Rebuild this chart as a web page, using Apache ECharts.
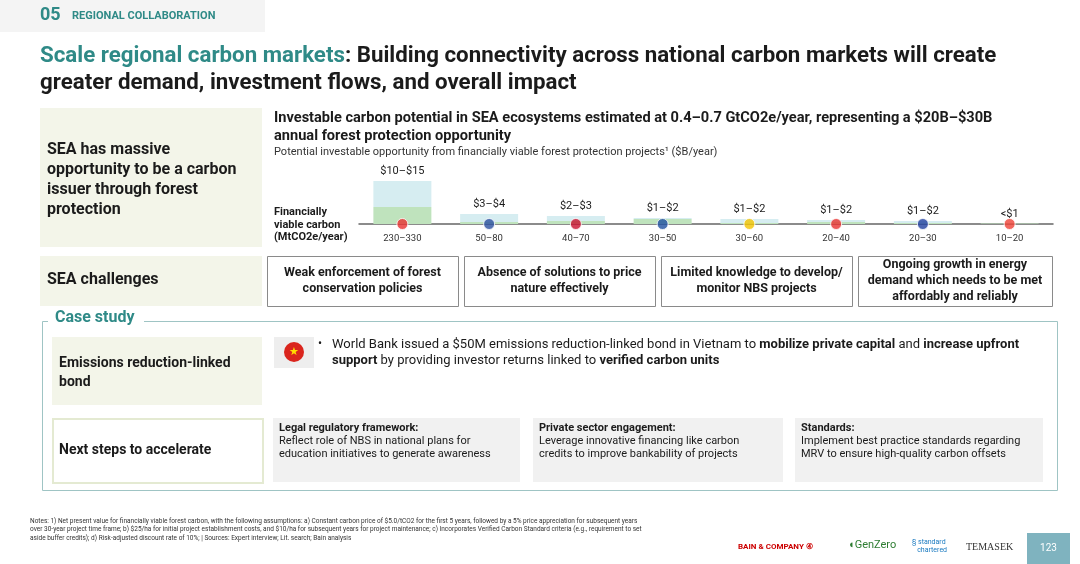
<!DOCTYPE html>
<html><head><meta charset="utf-8">
<script src="https://cdn.jsdelivr.net/npm/echarts@6/dist/echarts.min.js"></script>
<style>html,body{margin:0;padding:0;background:#fff}#c{width:1080px;height:564px}</style>
</head><body><div id="c"></div>
<script>
const countries = ['Indonesia','Malaysia','Thailand','Cambodia','Myanmar','Vietnam','Laos','Philippines'];
const viable = [17, 2, 3, 5, 1, 2, 1, 0.5];
const uneconomic = [26, 8, 5, 1, 4, 2, 2, 0];
const valueLabels = ['$10–$15','$3–$4','$2–$3','$1–$2','$1–$2','$1–$2','$1–$2','<$1'];
const carbonLabels = ['230–330','50–80','40–70','30–50','30–60','20–40','20–30','10–20'];
const flagColors = ['#e8312f','#2a4fa0','#c8102e','#1f4fa0','#f2c300','#e8312f','#1f3f9f','#ef4136'];

const F = 'Roboto, "Noto Sans", sans-serif';
const dark = '#1b1b1b', teal = '#2f8a87';
const chart = echarts.init(document.getElementById('c'));
const txt = (x,y,t,s,o={}) => ({type:'text',left:x,top:y,style:Object.assign({text:t,fontFamily:F,fontSize:s,fill:dark},o)});
const rect = (x,y,w,h,o={}) => ({type:'rect',left:x,top:y,shape:{width:w,height:h},style:Object.assign({fill:'#f3f5e9'},o)});
const ctext = (x,y,w,h,t,s,o={}) => ({type:'text',x:x+w/2,y:y+h/2,style:Object.assign({text:t,fontFamily:F,fontSize:s,fill:dark,align:'center',verticalAlign:'middle',fontWeight:'bold',lineHeight:s*1.3},o)});

const g = [
  rect(0,0,265,32,{fill:'#f4f4f4'}),
  txt(40,6,'05',18,{fill:teal,fontWeight:'bold'}),
  txt(72,11,'REGIONAL COLLABORATION',11,{fill:teal,fontWeight:'bold'}),
  {type:'text',left:40,top:43,style:{fontFamily:F,fontSize:22.3,fontWeight:'bold',lineHeight:27,
    text:'{a|Scale regional carbon markets}{b|: Building connectivity across national carbon markets will create}\n{b|greater demand, investment flows, and overall impact}',
    rich:{a:{fill:teal,fontSize:22.3,fontWeight:'bold',fontFamily:F},b:{fill:dark,fontSize:22.3,fontWeight:'bold',fontFamily:F}}}},
  rect(40,108,222,139),
  txt(47,140,'SEA has massive\nopportunity to be a carbon\nissuer through forest\nprotection',16,{fontWeight:'bold',lineHeight:20}),
  txt(274,109,'Investable carbon potential in SEA ecosystems estimated at 0.4–0.7 GtCO2e/year, representing a $20B–$30B\nannual forest protection opportunity',14.6,{fontWeight:'bold',lineHeight:18}),
  txt(274,147,'Potential investable opportunity from financially viable forest protection projects¹ ($B/year)',11,{fill:'#333'}),
  txt(274,206,'Financially\nviable carbon\n(MtCO2e/year)',11,{fontWeight:'bold',lineHeight:12.5}),
  rect(40,256,222,50),
  txt(47,272,'SEA challenges',16,{fontWeight:'bold'}),
];
[[267,191,'Weak enforcement of forest\nconservation policies'],[464,191,'Absence of solutions to price\nnature effectively'],[661,191,'Limited knowledge to develop/\nmonitor NBS projects'],[858,194,'Ongoing growth in energy\ndemand which needs to be met\naffordably and reliably']].forEach(([x,w,t])=>{
  g.push(rect(x,256,w,50,{fill:'#fff',stroke:'#8a8a8a',lineWidth:1}));
  g.push(ctext(x,256,w,50,t,12.5,{lineHeight:16}));
});
g.push(rect(40,319,1015,169,{fill:'none',stroke:'#9fc4c4',lineWidth:1}));
g.push(rect(48,309,96,20,{fill:'#fff'}));
g.push(txt(55,310,'Case study',16,{fill:teal,fontWeight:'bold'}));
g.push(rect(52,337,210,68));
g.push(txt(59,354,'Emissions reduction-linked\nbond',14,{fontWeight:'bold',lineHeight:19}));
g.push(rect(274,337,40,31,{fill:'#eeeeee'}));
g.push({type:'circle',shape:{cx:294,cy:352,r:10},style:{fill:'#da251d'}});
g.push({type:'text',x:294,y:352,style:{text:'★',fontSize:11,fill:'#ffde00',align:'center',verticalAlign:'middle'}});
g.push(txt(318,338,'•',12));
g.push({type:'text',left:332,top:337,style:{fontFamily:F,fontSize:13,lineHeight:16,
  text:'{n|World Bank issued a $50M emissions reduction-linked bond in Vietnam to }{b|mobilize private capital}{n| and }{b|increase upfront}\n{b|support}{n| by providing investor returns linked to }{b|verified carbon units}',
  rich:{n:{fontFamily:F,fontSize:13,fill:dark},b:{fontFamily:F,fontSize:13,fill:dark,fontWeight:'bold'}}}});
g.push(rect(52,418,210,64,{fill:'#fff',stroke:'#e4ead2',lineWidth:2}));
g.push(txt(59,443,'Next steps to accelerate',14,{fontWeight:'bold'}));
[[273,247,'Legal regulatory framework:','Reflect role of NBS in national plans for\neducation initiatives to generate awareness'],
 [533,250,'Private sector engagement:','Leverage innovative financing like carbon\ncredits to improve bankability of projects'],
 [795,248,'Standards:','Implement best practice standards regarding\nMRV to ensure high-quality carbon offsets']].forEach(([x,w,h,b])=>{
  g.push(rect(x,418,w,64,{fill:'#f1f1f1'}));
  g.push(txt(x+6,423,h,11,{fontWeight:'bold'}));
  g.push(txt(x+6,435,b,11,{lineHeight:12.5}));
});
g.push(txt(30,517,'Notes: 1) Net present value for financially viable forest carbon, with the following assumptions: a) Constant carbon price of $5.0/tCO2 for the first 5 years, followed by a 5% price appreciation for subsequent years\nover 30-year project time frame; b) $25/ha for initial project establishment costs, and $10/ha for subsequent years for project maintenance; c) Incorporates Verified Carbon Standard criteria (e.g., requirement to set\naside buffer credits); d) Risk-adjusted discount rate of 10%; | Sources: Expert interview; Lit. search; Bain analysis',6.5,{lineHeight:8.5,fill:'#333'}));
g.push(txt(738,543,'BAIN & COMPANY ④',8,{fill:'#cc0000',fontWeight:'bold'}));
g.push(txt(848,540,'◖GenZero',11,{fill:'#2e7d32'}));
g.push(txt(912,538,'§ standard\n   chartered',7,{fill:'#1a7ac0',lineHeight:8}));
g.push(txt(966,542,'TEMASEK',10,{fill:'#333',fontFamily:'serif'}));
g.push(rect(1027,533,43,31,{fill:'#7fb3bf'}));
g.push(ctext(1027,533,43,31,'123',10,{fill:'#fff',fontWeight:'normal'}));

chart.setOption({
  animation:false,
  grid:{left:359,width:694,top:180,height:44},
  xAxis:{type:'category',data:countries,axisTick:{show:false},
    axisLine:{lineStyle:{color:'#666',width:1.5}},
    axisLabel:{formatter:(v,i)=>carbonLabels[i],fontFamily:F,fontSize:9.5,color:'#333',margin:10}},
  yAxis:{type:'value',min:0,max:44,show:false},
  series:[
    {type:'bar',stack:'s',data:viable,barWidth:58,itemStyle:{color:'#bfe3bd'},z:2},
    {type:'bar',stack:'s',data:uneconomic,barWidth:58,itemStyle:{color:'#d6edf1'},z:2,
      label:{show:true,position:'top',distance:4,formatter:p=>valueLabels[p.dataIndex],fontFamily:F,fontSize:11,color:dark}},
    {type:'scatter',data:countries.map(()=>0),symbolSize:11,z:5,
      itemStyle:{color:p=>flagColors[p.dataIndex],borderColor:'#fff',borderWidth:1}}
  ],
  graphic:g.concat([txt(384,185,'Uneconomic\npotentials',7,{fill:'#555',align:'center',lineHeight:8})])
});
</script></body></html>
